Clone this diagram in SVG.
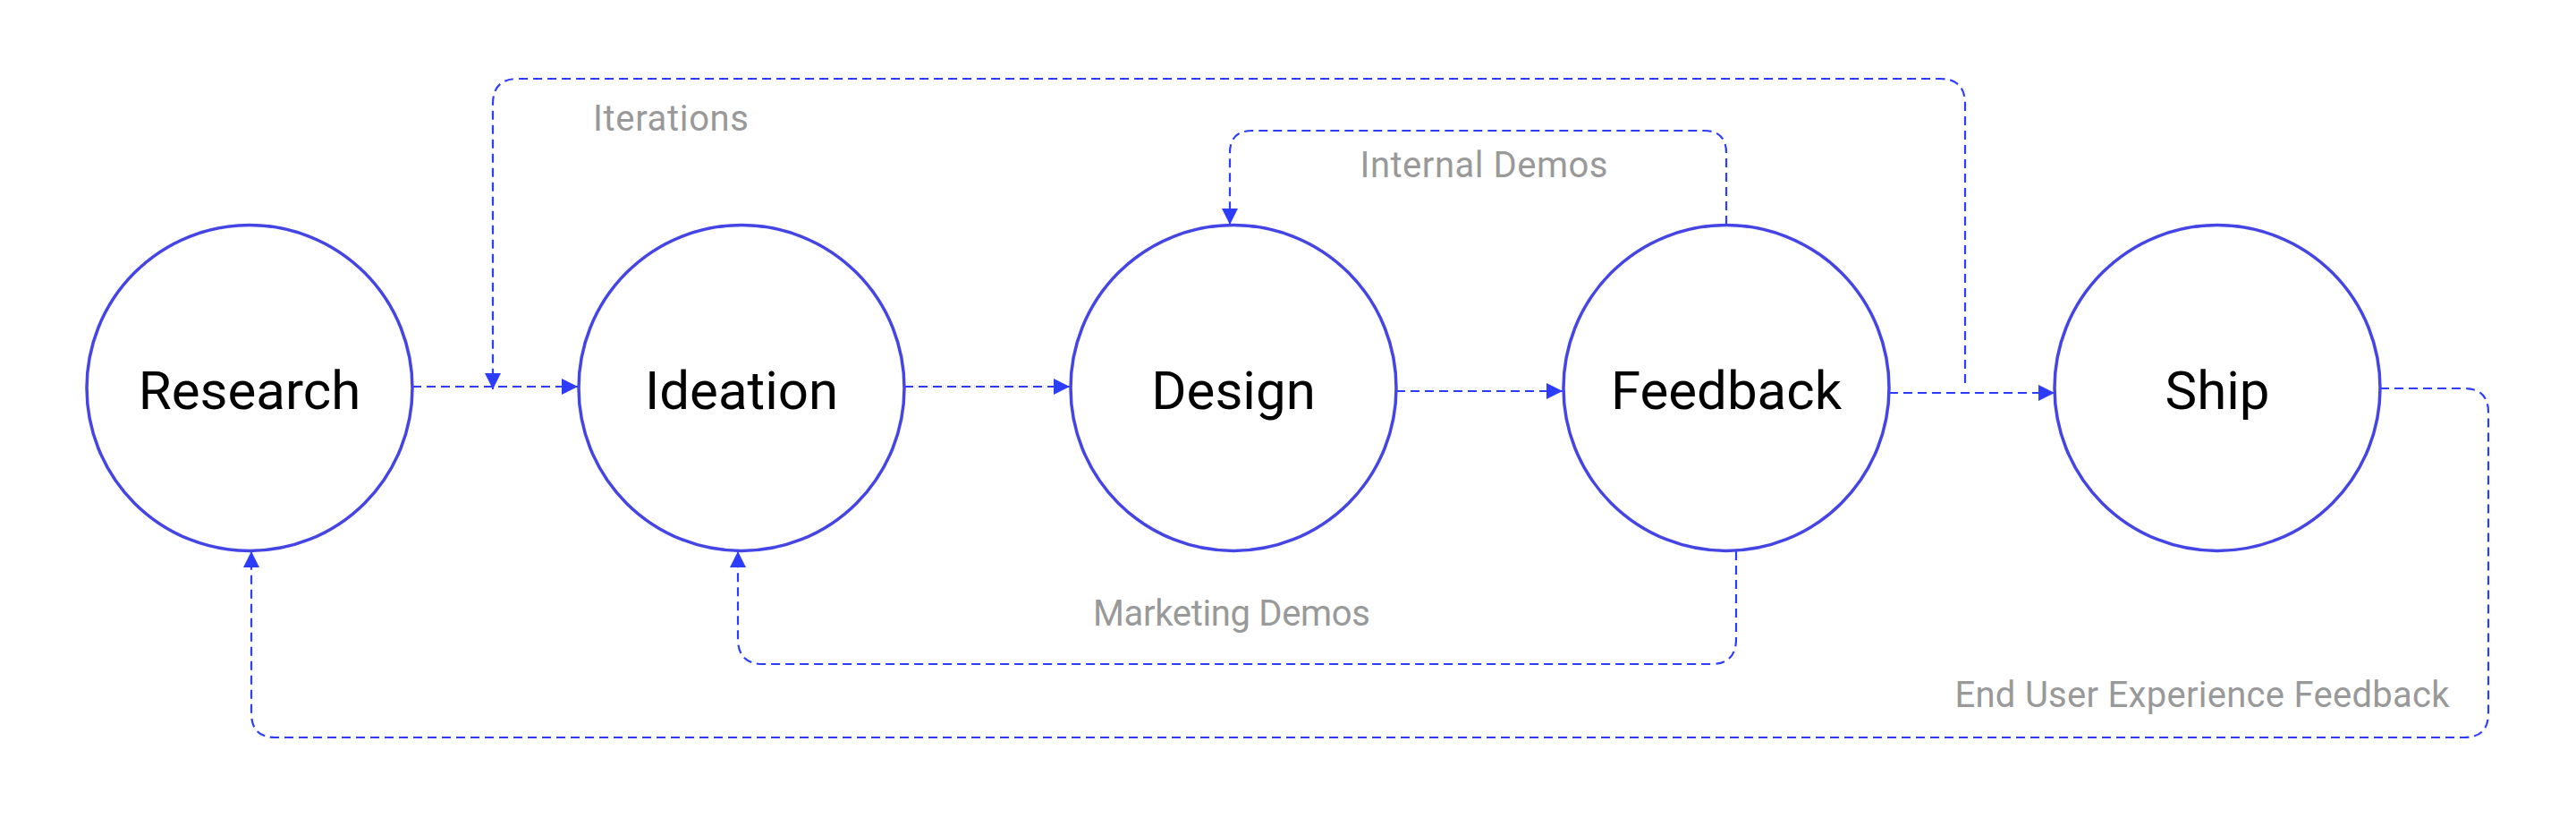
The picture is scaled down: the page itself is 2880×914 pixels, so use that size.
<svg xmlns="http://www.w3.org/2000/svg" width="2880" height="914" viewBox="0 0 2880 914">
<style>
.node circle{fill:#ffffff;stroke:#4545e6;stroke-width:3.5}
.node text{font-family:Roboto,"Liberation Sans",sans-serif;font-size:60px;fill:#000000;text-anchor:middle}
.conn{fill:none;stroke:#2d3dff;stroke-width:2.2;stroke-dasharray:10 6}
.lbl{font-family:Roboto,"Liberation Sans",sans-serif;font-size:40px;fill:#999999;text-anchor:middle}
</style>
<defs>
<marker id="arr" markerUnits="userSpaceOnUse" markerWidth="19" markerHeight="19" refX="18" refY="9" orient="auto" viewBox="0 0 19 19">
<path d="M0,0 L18,9 L0,18 z" fill="#2d3dff"/>
</marker>
</defs>
<rect width="2880" height="914" fill="#ffffff"/>
<g id="connectors">
<path class="conn" d="M461,432 H646" marker-end="url(#arr)"/>
<path class="conn" d="M2197,428 V116 Q2197,88 2169,88 H579 Q551,88 551,116 V435" marker-end="url(#arr)"/>
<path class="conn" d="M1011,432 H1196" marker-end="url(#arr)"/>
<path class="conn" d="M1561,437 H1747" marker-end="url(#arr)"/>
<path class="conn" d="M2112,439 H2297" marker-end="url(#arr)"/>
<path class="conn" d="M1930,251 V171 Q1930,146 1905,146 H1400 Q1375,146 1375,171 V251" marker-end="url(#arr)"/>
<path class="conn" d="M1941,616 V714 Q1941,742 1913,742 H853 Q825,742 825,714 V616" marker-end="url(#arr)"/>
<path class="conn" d="M2661,434 H2755 Q2782,434 2782,461 V797 Q2782,824 2755,824 H308 Q281,824 281,797 V616" marker-end="url(#arr)"/>
</g>
<g id="labels">
<text class="lbl" x="750" y="146" textLength="174">Iterations</text>
<text class="lbl" x="1659" y="198" textLength="277">Internal Demos</text>
<text class="lbl" x="1377" y="699" textLength="310">Marketing Demos</text>
<text class="lbl" x="2462" y="790" textLength="553">End User Experience Feedback</text>
</g>
<g id="node-research" class="node">
<circle cx="279" cy="433.5" r="182"/>
<text x="279" y="457">Research</text>
</g>
<g id="node-ideation" class="node">
<circle cx="829" cy="433.5" r="182"/>
<text x="829" y="457">Ideation</text>
</g>
<g id="node-design" class="node">
<circle cx="1379" cy="433.5" r="182"/>
<text x="1379" y="457">Design</text>
</g>
<g id="node-feedback" class="node">
<circle cx="1930" cy="433.5" r="182"/>
<text x="1930" y="457">Feedback</text>
</g>
<g id="node-ship" class="node">
<circle cx="2479" cy="433.5" r="182"/>
<text x="2479" y="457">Ship</text>
</g>
</svg>
